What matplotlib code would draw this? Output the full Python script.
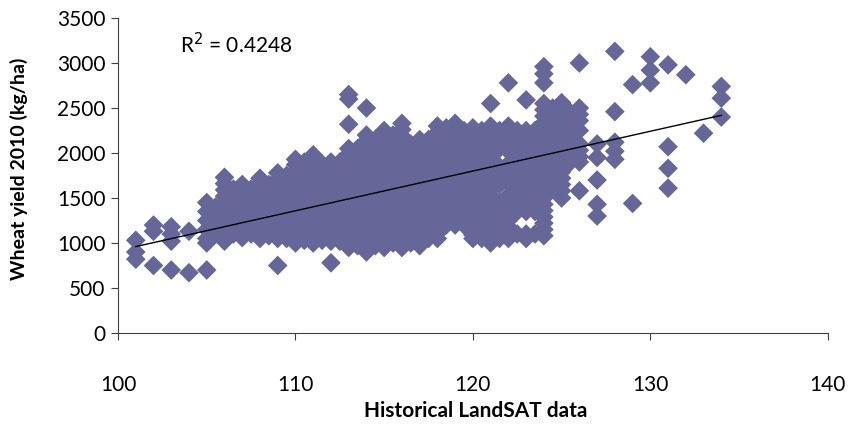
import matplotlib
matplotlib.use("Agg")
import matplotlib.pyplot as plt
import numpy as np

# yield values (kg/ha) read per LandSAT value
columns = {
    101: [1030, 900, 820],
    102: [1200, 1130, 750],
    103: [1180, 1100, 1020, 700],
    104: [1130, 670],
    105: [1450, 1350, 1250, 1150, 1050, 1000, 700],
    106: [1730, 1660, 1590, 1520, 1450, 1390, 1320, 1250, 1180, 1110, 1050, 1020],
    107: [1650, 1580, 1510, 1440, 1370, 1300, 1230, 1160, 1100, 1060],
    108: [1720, 1650, 1580, 1510, 1440, 1370, 1300, 1230, 1160, 1100, 1050],
    109: [1780, 1710, 1640, 1570, 1500, 1430, 1360, 1290, 1220, 1150, 1090,
          1050, 750],
    110: [1930, 1870, 1800, 1740, 1670, 1600, 1540, 1470, 1400, 1340, 1270,
          1200, 1140, 1070, 1000],
    111: [1980, 1920, 1850, 1780, 1710, 1640, 1580, 1510, 1440, 1370, 1300,
          1240, 1170, 1100, 1040, 1000],
    112: [1900, 1830, 1760, 1690, 1620, 1560, 1490, 1420, 1350, 1280, 1210,
          1150, 1080, 1020, 780],
    113: [2650, 2600, 2320, 2050, 1990, 1920, 1850, 1780, 1710, 1640, 1570,
          1500, 1430, 1360, 1290, 1220, 1150, 1080, 1010, 950],
    114: [2500, 2200, 2140, 2070, 2000, 1930, 1860, 1790, 1720, 1650, 1580,
          1510, 1440, 1370, 1300, 1230, 1160, 1090, 1020, 960, 900],
    115: [2250, 2180, 2110, 2040, 1970, 1900, 1830, 1760, 1690, 1620, 1550,
          1480, 1410, 1340, 1270, 1200, 1130, 1060, 1000, 950],
    116: [2330, 2260, 2190, 2120, 2050, 1980, 1910, 1840, 1770, 1700, 1630,
          1560, 1490, 1420, 1350, 1280, 1210, 1140, 1070, 1000, 950],
    117: [2150, 2080, 2010, 1940, 1870, 1800, 1730, 1660, 1590, 1520, 1450,
          1380, 1310, 1240, 1170, 1100, 1030, 970],
    118: [2300, 2230, 2160, 2090, 2020, 1950, 1880, 1810, 1740, 1670, 1600,
          1530, 1460, 1390, 1320, 1250, 1180, 1110, 1050],
    119: [2330, 2260, 2190, 2120, 2050, 1980, 1910, 1840, 1770, 1700, 1630,
          1560, 1490, 1420, 1350, 1280, 1200],
    120: [2280, 2210, 2140, 2070, 2000, 1930, 1860, 1790, 1720, 1650, 1580,
          1510, 1440, 1370, 1300, 1230, 1160, 1090, 1050],
    121: [2550, 2300, 2230, 2160, 2090, 2020, 1950, 1880, 1810, 1740, 1670,
          1600, 1530, 1460, 1390, 1320, 1250, 1180, 1110, 1040, 1000],
    122: [2780, 2300, 2230, 2160, 2090, 2020, 1880, 1810, 1740, 1670,
          1530, 1460, 1390, 1320, 1250, 1180, 1110, 1050],
    123: [2590, 2250, 2180, 2110, 2040, 1970, 1900, 1830, 1760, 1690, 1620,
          1550, 1480, 1410, 1350, 1100, 1050],
    124: [2960, 2880, 2780, 2550, 2480, 2410, 2340, 2270, 2200, 2130, 2060,
          1990, 1920, 1850, 1780, 1710, 1640, 1570, 1500, 1430, 1360, 1290,
          1220, 1150, 1080],
    125: [2560, 2490, 2420, 2350, 2280, 2210, 2140, 2070, 2000, 1930, 1860,
          1790, 1720, 1650, 1580, 1500],
    126: [3000, 2500, 2430, 2360, 2250, 2100, 2030, 1960, 1900, 1580],
    127: [2100, 1950, 1700, 1430, 1300],
    128: [3130, 2460, 2120, 2020, 1930],
    129: [2760, 1440],
    130: [3070, 2920, 2780],
    131: [2980, 2070, 1830, 1610],
    132: [2870],
    133: [2220],
    134: [2740, 2610, 2400],
}

# fractional LandSAT values inside the dense band
half_columns = {
    105.5: [1400, 1300, 1200, 1100],
    106.5: [1600, 1500, 1400, 1300, 1200, 1100],
    107.5: [1600, 1500, 1400, 1300, 1200, 1100],
    108.5: [1650, 1550, 1450, 1350, 1250, 1150, 1080],
    109.5: [1750, 1650, 1550, 1450, 1350, 1250, 1150, 1050],
    110.5: [1900, 1800, 1700, 1600, 1500, 1400, 1300, 1200, 1100, 1030],
    111.5: [1880, 1780, 1680, 1580, 1480, 1380, 1280, 1180, 1080, 1030],
    112.5: [1900, 1800, 1700, 1600, 1500, 1400, 1300, 1200, 1100, 1020],
    113.5: [2050, 1950, 1850, 1750, 1650, 1550, 1450, 1350, 1250, 1150, 1050, 970],
    114.5: [2150, 2050, 1950, 1850, 1750, 1650, 1550, 1450, 1350, 1250, 1150,
            1050, 970],
    115.5: [2200, 2100, 2000, 1900, 1800, 1700, 1600, 1500, 1400, 1300, 1200,
            1100, 1000],
    116.5: [2100, 2000, 1900, 1800, 1700, 1600, 1500, 1400, 1300, 1200, 1100, 1000],
    117.5: [2150, 2050, 1950, 1850, 1750, 1650, 1550, 1450, 1350, 1250, 1150, 1050],
    118.5: [2280, 2180, 2080, 1980, 1880, 1780, 1680, 1580, 1480, 1380, 1280, 1200],
    119.5: [2250, 2150, 2050, 1950, 1850, 1750, 1650, 1550, 1450, 1350, 1250, 1200],
    120.5: [2250, 2150, 2050, 1950, 1850, 1750, 1650, 1550, 1450, 1350, 1250,
            1150, 1050],
    121.5: [2250, 2150, 2050, 1850, 1750, 1650, 1450, 1350, 1250, 1150, 1050],
    122.5: [2250, 2150, 2050, 1950, 1850, 1750, 1650, 1550, 1450, 1350, 1100],
    123.5: [2250, 2150, 2050, 1950, 1850, 1750, 1650, 1550, 1450, 1350, 1100],
    124.5: [2500, 2400, 2300, 2200, 2100, 2000, 1900, 1800, 1700, 1600],
    125.5: [2450, 2350, 2200, 2100, 2000, 1900],
}

all_columns = {**columns, **half_columns}
landsat = np.array([x for x, ys in all_columns.items() for _ in ys], dtype=float)
wheat_yield = np.array([y for ys in all_columns.values() for y in ys], dtype=float)

# linear trend as shown on the chart
trend_slope = 44.2
trend_intercept = -3504.0
r2_label = "R$^2$ = 0.4248"

plt.rcParams["font.family"] = ["Lato", "DejaVu Sans"]

fig = plt.figure(figsize=(8.49, 4.25), dpi=100)
ax = fig.add_axes([0.139, 0.2165, 0.836, 0.741])

ax.scatter(landsat, wheat_yield, marker="D", s=100, color="#666699",
           edgecolors="none", zorder=2)

xs = np.array([landsat.min(), landsat.max()])
ax.plot(xs, trend_slope * xs + trend_intercept, color="black", lw=1, zorder=3)

ax.set_xlim(100, 140)
ax.set_ylim(0, 3500)
ax.set_xticks(np.arange(100, 141, 10))
ax.set_yticks(np.arange(0, 3501, 500))

for side in ("top", "right"):
    ax.spines[side].set_visible(False)
for side in ("left", "bottom"):
    ax.spines[side].set_color("#404040")
ax.tick_params(direction="out", length=5, color="#404040", labelsize=15)
ax.tick_params(axis="x", pad=25)
ax.tick_params(axis="y", pad=4)

ax.set_xlabel("Historical LandSAT data", fontsize=15, fontweight="bold")
ax.set_ylabel("Wheat yield 2010 (kg/ha)", fontsize=14, fontweight="bold")
ax.xaxis.set_label_coords(0.504, -0.215)
ax.yaxis.set_label_coords(-0.127, 0.52)

ax.text(103.5, 3200, r2_label, fontsize=15, va="center", ha="left")

fig.savefig("out.png", dpi=100)
